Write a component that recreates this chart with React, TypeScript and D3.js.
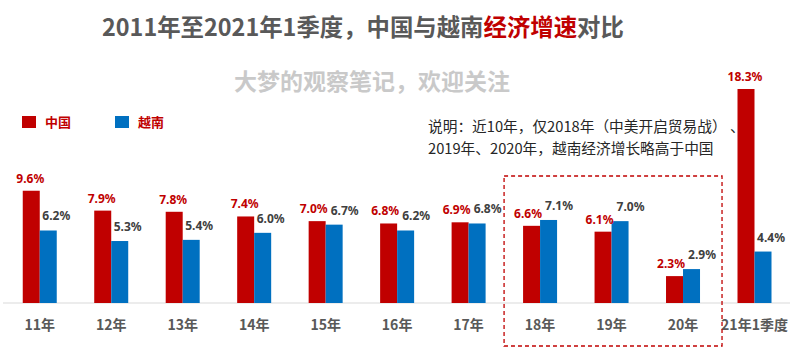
import React from "react";
import * as d3 from "d3";

const categories = ["11年", "12年", "13年", "14年", "15年", "16年", "17年", "18年", "19年", "20年", "21年1季度"];
const chinaValues = [9.6, 7.9, 7.8, 7.4, 7.0, 6.8, 6.9, 6.6, 6.1, 2.3, 18.3];
const vietnamValues = [6.2, 5.3, 5.4, 6.0, 6.7, 6.2, 6.8, 7.1, 7.0, 2.9, 4.4];
const seriesNames = ["中国", "越南"];
const highlighted = ["18年", "19年", "20年"];
const noteLines = ["说明：近10年，仅2018年（中美开启贸易战） 、", "2019年、2020年，越南经济增长略高于中国"];

const W = 800;
const H = 356;
const RED = "#C00000";
const BLUE = "#0070C0";
const FONT = "'Noto Sans', 'Noto Sans CJK SC', sans-serif";
const CJK = "'Noto Sans CJK SC', 'Noto Sans', sans-serif";

export default function App() {
  const x = d3.scalePoint<string>().domain(categories).range([39.75, 754.5]);
  const inner = d3.scaleBand<string>().domain(seriesNames).range([-17, 17]).padding(0);
  const y = d3.scaleLinear().domain([0, 18.3]).range([303, 89]);
  const colors = d3.scaleOrdinal<string, string>().domain(seriesNames).range([RED, BLUE]);
  const fmt = (v: number) => d3.format(".1f")(v) + "%";

  const series = [chinaValues, vietnamValues];

  const labelW = 28;
  const labels = categories.map((c, i) => {
    const cx = x(c)! + inner("中国")! + inner.bandwidth() / 2 - 1;
    const vx = x(c)! + inner("越南")! + inner.bandwidth() / 2 + 8;
    const cy = y(chinaValues[i]) - 8;
    const vy = y(vietnamValues[i]) - 10;
    let a = cx;
    let b = vx;
    const gap = 3;
    if (Math.abs(cy - vy) < 13) {
      const overlap = a + labelW / 2 + gap - (b - labelW / 2);
      if (overlap > 0) {
        a -= overlap / 2;
        b += overlap / 2;
      }
    }
    return { c, cx: a, cy, vx: b, vy };
  });

  const hx0 = x(highlighted[0])! - 36;
  const hx1 = x(highlighted[highlighted.length - 1])! + 39;

  return (
    <svg width={W} height={H} style={{ display: "block", position: "absolute", left: 0, top: 0, background: "#fff" }}>
      <text x={102} y={36} fontFamily={CJK} fontWeight={700} fontSize={23.4} fill="#595959">
        <tspan>2011年至2021年1季度，中国与越南</tspan>
        <tspan fill={RED}>经济增速</tspan>
        <tspan>对比</tspan>
      </text>
      <text x={372} y={90} textAnchor="middle" fontFamily={CJK} fontWeight={700} fontSize={23} fill="#c9c9c9">
        大梦的观察笔记，欢迎关注
      </text>

      {seriesNames.map((s, i) => (
        <g key={s} transform={`translate(${22 + i * 93},116)`}>
          <rect x={0} y={0} width={14} height={12} fill={colors(s)} />
          <text x={23} y={11} fontFamily={CJK} fontWeight={700} fontSize={13} fill={RED}>
            {s}
          </text>
        </g>
      ))}

      {noteLines.map((l, i) => (
        <text key={i} x={428} y={132 + i * 22} fontFamily={CJK} fontSize={14.7} fill="#262626" style={{ whiteSpace: "pre" }}>
          {l}
        </text>
      ))}

      <line x1={3} x2={790} y1={y(0)} y2={y(0)} stroke="#d9d9d9" strokeWidth={1} />

      {categories.map((c, i) => (
        <g key={c} transform={`translate(${x(c)},0)`}>
          {seriesNames.map((s, j) => (
            <rect
              key={s}
              x={inner(s)!}
              y={y(series[j][i])}
              width={inner.bandwidth()}
              height={y(0) - y(series[j][i])}
              fill={colors(s)}
            />
          ))}
          <text x={0} y={330} textAnchor="middle" fontFamily={CJK} fontWeight={700} fontSize={14} fill="#595959">
            {c}
          </text>
        </g>
      ))}

      {labels.map((l, i) => (
        <g key={l.c}>
          <text x={l.cx} y={l.cy} textAnchor="middle" fontFamily={FONT} fontWeight={700} fontSize={12} fill={RED}>
            {fmt(chinaValues[i])}
          </text>
          <text x={l.vx} y={l.vy} textAnchor="middle" fontFamily={FONT} fontWeight={700} fontSize={12} fill="#404040">
            {fmt(vietnamValues[i])}
          </text>
        </g>
      ))}

      <rect
        x={hx0}
        y={176}
        width={hx1 - hx0}
        height={170}
        fill="none"
        stroke={RED}
        strokeWidth={1.3}
        strokeDasharray="4,3"
      />
    </svg>
  );
}
